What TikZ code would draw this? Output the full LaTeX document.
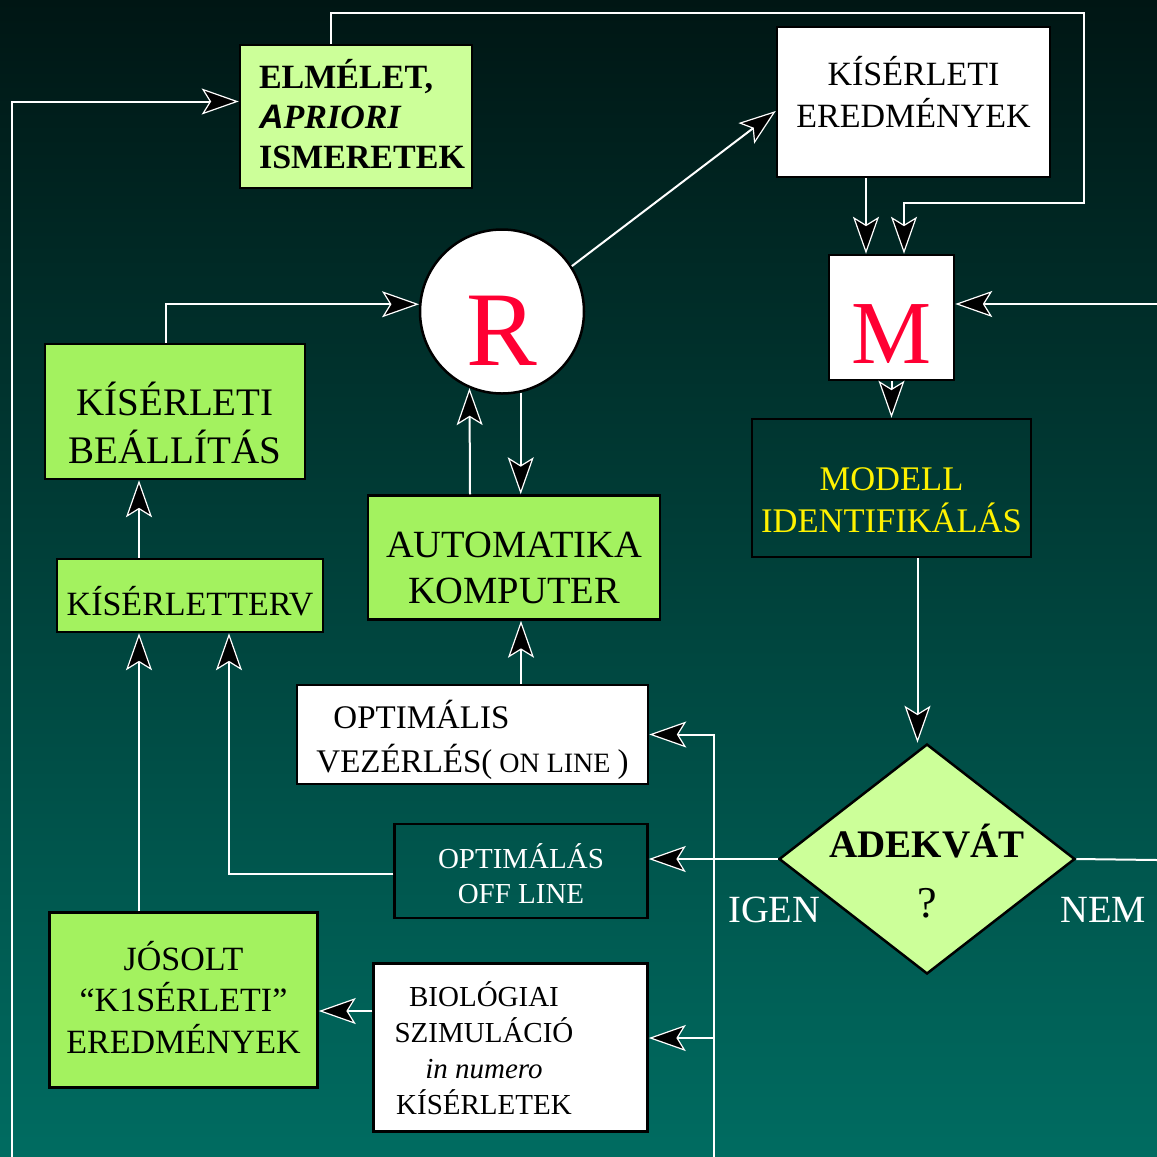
\documentclass[tikz,border=0pt]{standalone}
\usepackage{fontspec}
\setmainfont{Liberation Serif}
\setsansfont{Liberation Sans}
\usetikzlibrary{arrows.meta,shapes.geometric}
\definecolor{lgreen}{RGB}{204,255,153}
\definecolor{mgreen}{RGB}{163,242,95}
\definecolor{mred}{RGB}{255,0,51}
\definecolor{bgtop}{RGB}{0,22,20}
\definecolor{bgbot}{RGB}{0,108,97}
\newcommand\fsz[2]{\fontsize{#1}{#2}\selectfont}

\begin{document}
\begin{tikzpicture}[x=1pt, y=-1pt, >={Stealth[length=37pt, width=26pt, inset=8pt, fill=black, line width=1.2pt]},
	box/.style={draw=black, line width=2.5pt, inner sep=0pt, align=center},
	wire/.style={draw=white, line width=2pt}]
	\useasboundingbox (0,0) rectangle (1157,1157);
	\shade[top color=bgtop, bottom color=bgbot] (0,0) rectangle (1157,1157);
	% boxes
	\node[box, fill=lgreen, minimum width=232pt, minimum height=143pt, align=left, font=\bfseries\fsz{34}{40}, text height=103pt, text depth=0pt] (elm) at (356,116.5) {\hspace*{12pt}ELMÉLET,\\\hspace*{12pt}\textit{\textsf{A}PRIORI}\\\hspace*{12pt}ISMERETEK};
	\node[box, fill=white, minimum width=273pt, minimum height=150pt, font=\fsz{34}{42}, text height=50pt, text depth=0pt] (ker) at (913.5,102) {KÍSÉRLETI\\EREDMÉNYEK};
	\node[box, circle, fill=white, minimum size=164pt, font=\fsz{106}{110}, text=mred, text height=107pt, text depth=0pt] (R) at (502,311.5) {R};
	\node[box, fill=white, minimum width=125pt, minimum height=125pt, font=\fsz{90}{94}, text=mred, text height=91pt, text depth=0pt] (M) at (891.5,317.5) {M};
	\node[box, fill=mgreen, minimum width=260pt, minimum height=135pt, font=\fsz{39}{48}, text height=103pt, text depth=0pt] (setup) at (175,411.5) {KÍSÉRLETI\\BEÁLLÍTÁS};
	\node[box, fill=mgreen, minimum width=266pt, minimum height=73pt, font=\fsz{34}{40}, text height=40pt, text depth=1pt] (terv) at (190,595.5) {KÍSÉRLETTERV};
	\node[box, fill=mgreen, minimum width=292pt, minimum height=124pt, font=\fsz{38.5}{46}, text height=91pt, text depth=0pt] (auto) at (514,557.5) {AUTOMATIKA\\KOMPUTER};
	\node[box, fill=white, minimum width=351pt, minimum height=99pt, align=left, font=\fsz{33}{44}, text height=75pt, text depth=0pt] (opt) at (472.5,734.5) {\hspace*{17pt}OPTIMÁLIS\\VEZÉRLÉS({\fsz{28}{44} ON LINE })};
	\node[box, minimum width=279pt, minimum height=138pt, font=\fsz{34.5}{42}, text=yellow, text height=88pt, text depth=0pt] (modell) at (891.5,488) {MODELL\\IDENTIFIKÁLÁS};
	\node[box, diamond, fill=lgreen, minimum width=296pt, minimum height=230pt] (adek) at (927,859) {};
	\node[font=\fsz{39}{60}, align=center, text height=114pt, text depth=0pt] (adektxt) at (927,860) {\textbf{ADEKVÁT}\\{\fsz{44}{60}?}};
	\node[box, minimum width=253pt, minimum height=94pt, font=\fsz{29}{35}, text=white, text height=64pt, text depth=0pt] (off) at (521,871) {OPTIMÁLÁS\\OFF LINE};
	\node[box, fill=mgreen, minimum width=268pt, minimum height=175pt, font=\fsz{34}{41.5}, text height=106pt, text depth=0pt] (jos) at (183.5,1000) {JÓSOLT\\“K1SÉRLETI”\\EREDMÉNYEK};
	\node[box, fill=white, minimum width=274pt, minimum height=168pt] (bio) at (510.5,1047.5) {};
	\node[font=\fsz{29}{35.7}, align=center, text height=133pt, text depth=0pt] (biotxt) at (484,1047.5) {BIOLÓGIAI\\SZIMULÁCIÓ\\\textit{in numero}\\KÍSÉRLETEK};
	\node[font=\fsz{38.5}{40}, text=white, anchor=base west, inner sep=0pt] (igen) at (728,922) {IGEN};
	\node[font=\fsz{38.5}{40}, text=white, anchor=base west, inner sep=0pt] (nem) at (1060,922) {NEM};
	% free ends
	\coordinate (tr) at (1084,13);
	\coordinate (trb) at (1084,203);
	\coordinate (bl) at (12,1157);
	\coordinate (mr) at (1157,304);
	\coordinate (nr) at (1157,860);
	\coordinate (vb) at (714,1157);
	\coordinate (bioin) at ([yshift=9.5pt]bio.east);
	% connectors
	\draw[wire, ->] ([xshift=-25pt]elm.north) |- (tr) -- (trb) -| ([xshift=12.5pt]M.north);
	\draw[wire, ->] (bl) |- ([yshift=15pt]elm.west);
	\draw[wire, ->] ([xshift=-9pt]setup.north) |- (R.175);
	\draw[wire, ->] (R.33) -- ([yshift=-9pt]ker.west);
	\draw[wire, ->] ([xshift=-47.5pt]ker.south) -- ([xshift=-25.5pt]M.north);
	\draw[wire, ->] (mr) -- (mr -| M.east);
	\draw[wire, ->] (M.south) -- (modell.north);
	\draw[wire, ->] ([xshift=26pt]modell.south) -- ([xshift=26pt]modell.south |- adek.north);
	\draw[wire, ->] ([xshift=-44pt]auto.north) -- (R.247);
	\draw[wire, ->] (R.283) -- (R.283 |- auto.north);
	\draw[wire, ->] ([xshift=48.5pt]opt.north) -- ([xshift=48.5pt]opt.north |- auto.south);
	\draw[wire, ->] ([xshift=-51pt]terv.north) -- ([xshift=-51pt]terv.north |- setup.south);
	\draw[wire, ->] ([xshift=-44.5pt]jos.north) -- ([xshift=-44.5pt]jos.north |- terv.south);
	\draw[wire, ->] ([yshift=-3pt]off.west) -| ([xshift=39pt]terv.south);
	\draw[wire, ->] (adek.west) -- (adek.west -| off.east);
	\draw[wire] (adek.east) -- (nr);
	\draw[wire, ->] (vb) |- (opt.east);
	\draw[wire, ->] (bioin -| vb) -- (bioin);
	\draw[wire, ->] ([yshift=36.5pt]bio.west) -- ([yshift=36.5pt]bio.west -| jos.east);
\end{tikzpicture}
\end{document}
